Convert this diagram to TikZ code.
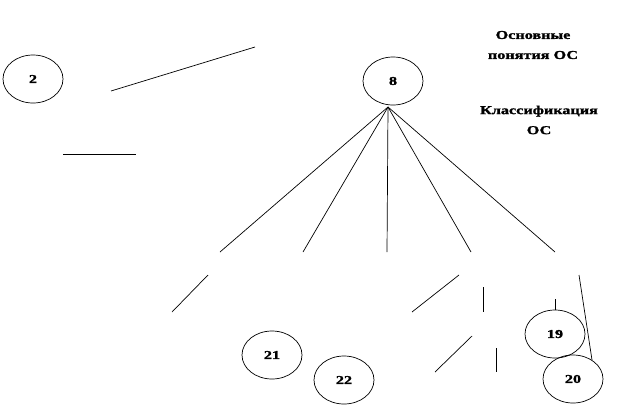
\documentclass[tikz,border=0pt]{standalone}
\usepackage{fontspec}
\setmainfont{Liberation Serif}
\newfontfamily\widebold[FakeStretch=1.35, BoldFeatures={FakeBold=1.5}]{Liberation Serif}
\usetikzlibrary{shapes.geometric}
\begin{document}
\begin{tikzpicture}[x=1pt,y=-1pt,
  oval/.style={draw, line width=0.7pt, ellipse, minimum width=60pt, minimum height=48pt, inner sep=0pt, font=\widebold\bfseries\fontsize{12}{12}\selectfont},
  conn/.style={draw, line width=0.7pt},
  lbl/.style={align=center, font=\widebold\bfseries\fontsize{12}{20}\selectfont, inner sep=0pt}]
\useasboundingbox (0,0) rectangle (617,407);
% ellipses
\node[oval] (n2) at (33,79) {2};
\node[oval] (n8) at (393,81) {8};
\node[oval] (n19) at (555,334) {19};
\node[oval] (n20) at (573,379) {20};
\node[oval] (n21) at (272,355) {21};
\node[oval] (n22) at (344,380) {22};
% labels
\node[lbl] (t1) at (533,45) {Основные\\понятия ОС};
\node[lbl] (t2) at (539,120) {Классификация\\ОС};
% fan coordinates
\coordinate (apex) at (388,107);
\coordinate (f1) at (220,252);
\coordinate (f2) at (303,252);
\coordinate (f3) at (387,252);
\coordinate (f4) at (471,252);
\coordinate (f5) at (555,252);
\foreach \f in {f1,f2,f3,f4,f5} \draw[conn] (apex) -- (\f);
% free segments
\coordinate (a1) at (111,91); \coordinate (a2) at (255,47);
\draw[conn] (a1) -- (a2);
\coordinate (h1) at (63,154); \coordinate (h2) at (136,154);
\draw[conn] (h1) -- (h2);
\coordinate (b1) at (172,312); \coordinate (b2) at (208,275);
\draw[conn] (b1) -- (b2);
\coordinate (c1) at (412,312); \coordinate (c2) at (459,275);
\draw[conn] (c1) -- (c2);
\coordinate (v1) at (483,287); \coordinate (v2) at (483,312);
\draw[conn] (v1) -- (v2);
\coordinate (d1) at (435,372); \coordinate (d2) at (472,336);
\draw[conn] (d1) -- (d2);
\coordinate (w1) at (496,348); \coordinate (w2) at (496,372);
\draw[conn] (w1) -- (w2);
\coordinate (s1) at (555,299);
\draw[conn] (s1) -- (n19.north);
\coordinate (l1) at (579,275); \coordinate (l2) at (592,360);
\draw[conn] (l1) -- (l2);
\end{tikzpicture}
\end{document}
